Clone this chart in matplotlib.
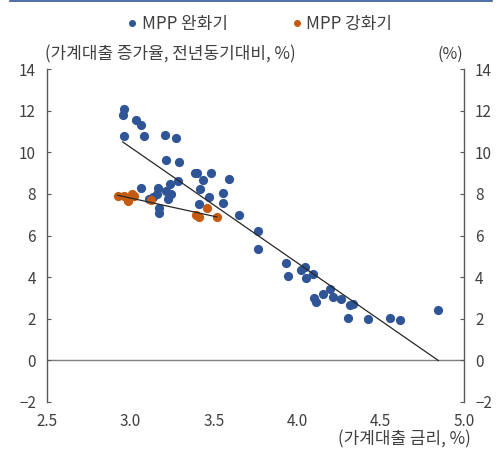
import numpy as np
import matplotlib.pyplot as plt
from matplotlib.lines import Line2D

plt.rcParams['font.family'] = ['Noto Sans CJK KR', 'DejaVu Sans']

# MPP 완화기 (가계대출 금리, 가계대출 증가율)
ease_x = [2.963, 2.954, 3.032, 3.066, 2.963, 3.083, 3.207, 3.273, 3.215, 3.293,
          3.387, 3.397, 3.483, 3.435, 3.593, 3.283, 3.235, 3.066, 3.164, 3.415,
          3.555, 3.215, 3.243, 3.161, 3.113, 3.134, 3.225, 3.471, 3.555, 3.413,
          3.173, 3.173, 3.650, 3.766, 3.765, 3.935, 3.945, 4.045, 4.025, 4.095,
          4.055, 4.195, 4.155, 4.215, 4.264, 4.103, 4.115, 4.335, 4.317, 4.305,
          4.424, 4.555, 4.616, 4.846]
ease_y = [12.08, 11.77, 11.53, 11.31, 10.79, 10.79, 10.83, 10.67, 9.63, 9.54,
          8.99, 8.99, 8.99, 8.66, 8.70, 8.62, 8.49, 8.26, 8.26, 8.23,
          8.04, 8.15, 7.99, 7.99, 7.74, 7.83, 7.74, 7.83, 7.57, 7.49,
          7.30, 7.06, 6.98, 6.21, 5.33, 4.66, 4.05, 4.50, 4.35, 4.13,
          3.94, 3.44, 3.17, 3.04, 2.96, 2.99, 2.81, 2.72, 2.65, 2.05,
          1.97, 2.05, 1.93, 2.40]

# MPP 강화기
tight_x = [2.924, 2.963, 2.984, 3.012, 3.024, 3.123, 3.461, 3.393, 3.413, 3.517]
tight_y = [7.89, 7.89, 7.67, 7.98, 7.89, 7.70, 7.30, 6.97, 6.88, 6.87]

# 추세선 (절편, 기울기)
ease_trend = (26.89, -5.55)
tight_trend = (13.05, -1.75)

blue = '#2F5597'
orange = '#C55A11'
txt = '#404040'

fig = plt.figure(figsize=(4.99, 4.57), dpi=100)
ax = fig.add_axes([47 / 499, 1 - 402 / 457, (464 - 47) / 499, (402 - 69) / 457])

ax.scatter(ease_x, ease_y, s=44, color=blue, zorder=3, linewidths=0)
ax.scatter(tight_x, tight_y, s=44, color=orange, zorder=3, linewidths=0)

for xs, (a, b) in ((ease_x, ease_trend), (tight_x, tight_trend)):
    lx = np.array([min(xs), max(xs)])
    ax.plot(lx, a + b * lx, color='#262626', lw=0.9, zorder=4)

ax.axhline(0, color='#808080', lw=1, zorder=1)

ax.set_xlim(2.5, 5.0)
ax.set_ylim(-2, 14)
ax.set_xticks(np.arange(2.5, 5.01, 0.5))
ax.set_xticklabels([f'{v:.1f}' for v in np.arange(2.5, 5.01, 0.5)])
ax.set_yticks(range(-2, 15, 2))

for s in ('top', 'bottom'):
    ax.spines[s].set_visible(False)
for s in ('left', 'right'):
    ax.spines[s].set_color('#595959')
    ax.spines[s].set_linewidth(1)

ax.tick_params(axis='y', direction='in', left=True, right=True, labelleft=True,
               labelright=True, length=3, color='#595959', labelsize=11,
               labelcolor=txt, pad=8)
ax.tick_params(axis='x', length=0, labelsize=11, labelcolor=txt, pad=8)

fig.text(45 / 499, 1 - 54 / 457, '(가계대출 증가율, 전년동기대비, %)', fontsize=12.2,
         color=txt, va='center', ha='left')
fig.text(463 / 499, 1 - 54 / 457, '(%)', fontsize=11.5, color=txt,
         va='center', ha='right')
fig.text(471 / 499, 1 - 439 / 457, '(가계대출 금리, %)', fontsize=12.2,
         color=txt, va='center', ha='right')

handles = [Line2D([], [], marker='o', ls='', color=blue, markersize=4),
           Line2D([], [], marker='o', ls='', color=orange, markersize=4)]
fig.legend(handles, ['MPP 완화기', 'MPP 강화기'], loc='center', ncol=2,
           bbox_to_anchor=(258 / 499, 1 - 24 / 457), frameon=False, fontsize=12.2,
           handletextpad=0.05, columnspacing=3.6, handlelength=1.0,
           labelcolor=txt)

fig.add_artist(Line2D([10 / 499, 492 / 499], [1 - 1 / 457, 1 - 1 / 457],
                      color=blue, lw=1.2))

fig.savefig('out.png', dpi=100)
